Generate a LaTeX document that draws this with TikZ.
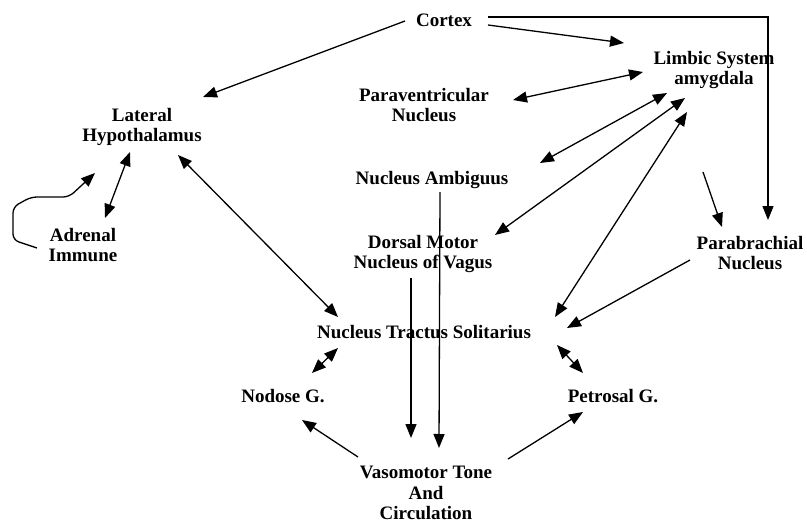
\documentclass[tikz,border=0pt]{standalone}
\usepackage{fontspec}
\setmainfont{Liberation Serif}
\usetikzlibrary{arrows.meta}
\usetikzlibrary{calc}

\tikzset{
  area/.style={font=\fontsize{19}{20.5}\selectfont\bfseries, align=center, inner sep=0pt},
  tie/.style={line width=1.3pt, -{Triangle[length=14pt,width=11pt]}},
  twoway/.style={tie, {Triangle[length=14pt,width=11pt]}-{Triangle[length=14pt,width=11pt]}},
}

\begin{document}
\begin{tikzpicture}[x=1pt,y=-1pt]
  \useasboundingbox (0,0) rectangle (807,525);

  % Define nodes
  \node[area] at (444,20)  (cortex) {Cortex};
  \node[area] at (714,70)  (limbic) {Limbic System\\amygdala};
  \node[area] at (424,105) (pvn) {Paraventricular\\Nucleus};
  \node[area] at (142,127) (lh) {Lateral\\Hypothalamus};
  \node[area] at (432,180) (ambig) {Nucleus Ambiguus};
  \node[area] at (83,245)  (adrenal) {Adrenal\\Immune};
  \node[area] at (423,254) (dmv) {Dorsal Motor\\Nucleus of Vagus};
  \node[area] at (750,253) (pbn) {Parabrachial\\Nucleus};
  \node[area] at (424,332) (nts) {Nucleus Tractus Solitarius};
  \node[area] at (283,396) (nodose) {Nodose G.};
  \node[area] at (613,396) (petrosal) {Petrosal G.};
  \node[area] at (426,493) (vaso) {Vasomotor Tone\\And\\Circulation};

  % Connect the nodes
  \draw[tie] ($(cortex)+(-39,1)$) -- ($(lh)+(61,-30)$);
  \draw[tie] ($(cortex)+(44,5)$) -- ($(limbic)+(-90,-27)$);
  \draw[tie] ($(cortex)+(44,-3)$) -| ($(pbn)+(18,-33)$);
  \draw[twoway] ($(limbic)+(-71,2)$) -- ($(pvn)+(89,-5)$);
  \draw[twoway] ($(limbic)+(-47,23)$) -- ($(ambig)+(108,-17)$);
  \draw[twoway] ($(limbic)+(-29,28)$) -- ($(dmv)+(72,-19)$);
  \draw[twoway] ($(limbic)+(-27,42)$) -- ($(nts)+(131,-15)$);
  \draw[tie] ($(limbic)+(-11,102)$) -- ($(pbn)+(-28,-26)$);
  \draw[tie] ($(pbn)+(-60,7)$) -- ($(nts)+(143,-4)$);
  \draw[twoway] ($(lh)+(36,28)$) -- ($(nts)+(-86,-15)$);
  \draw[twoway] ($(lh)+(-12,25)$) -- ($(adrenal)+(22,-27)$);
  \draw[tie, rounded corners=6pt] ($(adrenal)+(-46,3)$) -- ++(-24,-8) -- ++(0,-33)
    -- ++(18,-10) -- ++(38,0) -- ($(lh)+(-47,46)$);
  \draw[tie] ($(ambig)+(8,12)$) -- ($(vaso)+(13,-45)$);
  \draw[tie] ($(dmv)+(-12,24)$) -- ($(vaso)+(-15,-55)$);
  \draw[twoway] ($(nts)+(-86,16)$) -- ($(nodose)+(29,-23)$);
  \draw[twoway] ($(nts)+(133,13)$) -- ($(petrosal)+(-30,-23)$);
  \draw[tie] ($(vaso)+(-68,-36)$) -- ($(nodose)+(19,24)$);
  \draw[tie] ($(vaso)+(82,-34)$) -- ($(petrosal)+(-30,16)$);

\end{tikzpicture}
\end{document}
